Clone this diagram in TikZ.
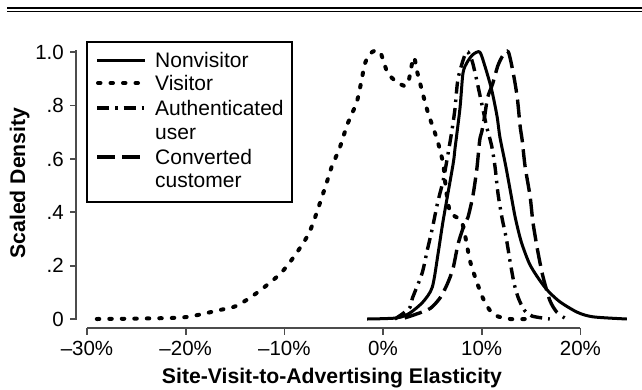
\documentclass[tikz,border=0pt]{standalone}
\usepackage{fontspec}
\setmainfont{Liberation Sans}
\begin{document}
\begin{tikzpicture}[x=1pt,y=-1pt,
  ytick/.style={font=\fontsize{20.5}{22}\selectfont, inner sep=0pt, anchor=base east},
  xtick/.style={font=\fontsize{20.5}{22}\selectfont, inner sep=0pt, anchor=base},
  legtext/.style={font=\fontsize{21}{23}\selectfont, inner sep=0pt, anchor=base west},
  axtitle/.style={font=\bfseries\fontsize{21.2}{23}\selectfont, inner sep=0pt, anchor=base},
  axisline/.style={draw=black!70, line width=1.8pt},
  solidc/.style={line width=3pt, line join=round},
  dotc/.style={line width=4pt, line cap=round, dash pattern=on 2.5pt off 10pt},
  dashdotc/.style={line width=3.4pt, dash pattern=on 12pt off 6pt on 2.5pt off 6pt},
  dashc/.style={line width=3.4pt, dash pattern=on 18pt off 7pt}]
\useasboundingbox (0,0) rectangle (642,389);
% top double rule
\draw[line width=2.2pt] (7,8) -- (642,8);
\draw[line width=1.4pt] (7,11.5) -- (642,11.5);
% y axis
\draw[axisline] (76,50) -- (76,320);
\foreach \yy/\lab/\nm in {52/1.0/ya, 105.4/.8/yb, 158.8/.6/yc, 212.2/.4/yd, 265.6/.2/ye, 319/0/yf}{
  \draw[axisline] (70,\yy) -- (76,\yy);
  \node[ytick] (\nm) at (64,\yy+7.2) {\lab};
}
% x axis
\draw[axisline] (87,328) -- (580.4,328);
\foreach \xx/\lab/\nm in {87/–30\%/xa, 185.7/–20\%/xb, 284.4/–10\%/xc, 383/0\%/xd, 481.7/10\%/xe, 580.4/20\%/xf}{
  \draw[axisline] (\xx,328) -- (\xx,335);
  \node[xtick] (\nm) at (\xx,355.5) {\lab};
}
\node[axtitle] (xtitle) at (332,383) {Site-Visit-to-Advertising Elasticity};
\node[axtitle, rotate=90] (ytitle) at (25,183) {Scaled Density};
% curves
\begin{scope}[shift={(383,319)}, xscale=9.87, yscale=-267]
\draw[dotc] plot[smooth, tension=0.45] coordinates {
 (-29.0,0) (-24,0.002) (-20.0,0.007) (-16.5,0.034) (-14.8,0.05) (-12.7,0.1) (-10.4,0.17)
 (-8.9,0.24) (-7.4,0.33) (-5.8,0.50) (-5.2,0.57) (-4.4,0.64) (-3.6,0.73) (-2.6,0.82)
 (-1.8,0.96) (-1.1,1.0) (-0.3,1.0) (0.5,0.92) (1.7,0.88) (2.5,0.88) (3.1,0.98)
 (3.5,0.92) (4.5,0.78) (5.5,0.67) (6.1,0.58) (6.4,0.48) (6.8,0.40) (7.5,0.38)
 (8.1,0.35) (8.8,0.22) (9.4,0.15) (10.1,0.08) (10.8,0.034) (11.55,0.011) (12.9,0) (14.4,0)};
\draw[solidc] plot[smooth, tension=0.45] coordinates {
 (-1.6,0) (1.4,0.004) (2.7,0.022) (4.05,0.064) (5.0,0.12) (5.6,0.25) (6.1,0.37)
 (7.1,0.58) (7.3,0.64) (7.8,0.79) (8.1,0.92) (8.5,0.96) (9.1,0.99) (9.8,1.0)
 (10.3,0.95) (11.0,0.86) (11.55,0.76) (11.85,0.68) (12.4,0.58) (12.9,0.48) (13.4,0.38)
 (14.0,0.29) (14.8,0.21) (15.6,0.16) (16.6,0.11) (17.9,0.065) (19.7,0.025) (21.3,0.008) (24.7,0)};
\draw[dashdotc] plot[smooth, tension=0.45] coordinates {
 (1.2,0) (2.0,0.02) (2.75,0.045) (3.0,0.08) (3.95,0.17) (4.5,0.26) (5.0,0.34) (5.5,0.43)
 (6.1,0.52) (6.5,0.60) (7.0,0.71) (7.3,0.79) (7.6,0.90) (8.3,0.99) (8.6,1.0) (9.0,0.97)
 (9.4,0.91) (10.1,0.79) (10.5,0.72) (11.0,0.65) (11.35,0.57) (11.65,0.47) (12.05,0.38)
 (12.5,0.30) (12.9,0.21) (13.3,0.13) (13.7,0.08) (14.3,0.034) (15.1,0.011) (16.9,0)};
\draw[dashc] plot[smooth, tension=0.45] coordinates {
 (2.2,0.004) (3.5,0.02) (4.8,0.04) (5.8,0.08) (6.5,0.13) (7.1,0.19) (7.6,0.28) (8.2,0.35)
 (8.6,0.38) (9.1,0.46) (9.5,0.56) (9.8,0.67) (10.0,0.70) (10.3,0.76) (10.6,0.83)
 (11.1,0.88) (11.65,0.95) (12.2,0.99) (12.7,1.0) (13.2,0.92) (13.6,0.83) (13.9,0.72)
 (14.1,0.67) (14.4,0.57) (14.9,0.46) (15.2,0.36) (15.7,0.25) (16.2,0.16) (16.9,0.07)
 (17.6,0.026) (18.4,0.004)};
\end{scope}
% legend
\draw[fill=white, line width=1.3pt] (87,42) rectangle (292,202);
\draw[solidc] (97,60) -- (145,60);
\draw[dotc] (98,83) -- (145,83);
\draw[dashdotc] (97,108) -- (145,108);
\draw[dashc] (97,157) -- (145,157);
\node[legtext] (l1) at (155,67.5) {Nonvisitor};
\node[legtext] (l2) at (155,90.5) {Visitor};
\node[legtext] (l3) at (155,115.5) {Authenticated};
\node[legtext] (l3b) at (155,139.5) {user};
\node[legtext] (l4) at (155,164.5) {Converted};
\node[legtext] (l4b) at (155,187.5) {customer};
\end{tikzpicture}
\end{document}
